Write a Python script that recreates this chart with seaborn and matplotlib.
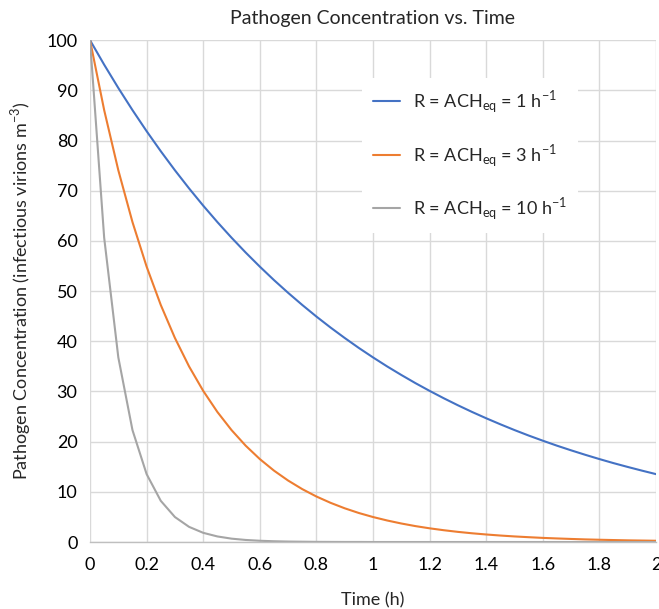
import matplotlib
matplotlib.use("Agg")
import matplotlib.pyplot as plt
import seaborn as sns
import pandas as pd
import numpy as np


time_h = [0.0, 0.05, 0.1, 0.15, 0.2, 0.25, 0.3, 0.35, 0.4, 0.45, 0.5,
          0.55, 0.6, 0.65, 0.7, 0.75, 0.8, 0.85, 0.9, 0.95, 1.0,
          1.05, 1.1, 1.15, 1.2, 1.25, 1.3, 1.35, 1.4, 1.45, 1.5,
          1.55, 1.6, 1.65, 1.7, 1.75, 1.8, 1.85, 1.9, 1.95, 2.0]

conc_r1 = [100, 95.12, 90.48, 86.07, 81.87, 77.88, 74.08, 70.47, 67.03, 63.76, 60.65,
           57.69, 54.88, 52.20, 49.66, 47.24, 44.93, 42.74, 40.66, 38.67, 36.79,
           34.99, 33.29, 31.66, 30.12, 28.65, 27.25, 25.92, 24.66, 23.46, 22.31,
           21.22, 20.19, 19.20, 18.27, 17.38, 16.53, 15.72, 14.96, 14.23, 13.53]

conc_r3 = [100, 86.07, 74.08, 63.76, 54.88, 47.24, 40.66, 34.99, 30.12, 25.92, 22.31,
           19.20, 16.53, 14.23, 12.25, 10.54, 9.07, 7.81, 6.72, 5.78, 4.98,
           4.29, 3.69, 3.17, 2.73, 2.35, 2.02, 1.74, 1.50, 1.29, 1.11,
           0.96, 0.82, 0.71, 0.61, 0.52, 0.45, 0.39, 0.33, 0.29, 0.25]

conc_r10 = [100, 60.65, 36.79, 22.31, 13.53, 8.21, 4.98, 3.02, 1.83, 1.11, 0.67,
            0.41, 0.25, 0.15, 0.09, 0.06, 0.03, 0.02, 0.01, 0.01, 0.0,
            0, 0, 0, 0, 0, 0, 0, 0, 0, 0,
            0, 0, 0, 0, 0, 0, 0, 0, 0, 0]

labels = [r"R = ACH$_\mathregular{eq}$ = 1 h$^\mathregular{-1}$",
          r"R = ACH$_\mathregular{eq}$ = 3 h$^\mathregular{-1}$",
          r"R = ACH$_\mathregular{eq}$ = 10 h$^\mathregular{-1}$"]
colors = ["#4472c4", "#ed7d31", "#a5a5a5"]


def main():

    sns.set_theme(style="white")
    plt.rcParams["font.family"] = ["Lato", "DejaVu Sans"]
    plt.rcParams["mathtext.fontset"] = "custom"
    plt.rcParams["mathtext.rm"] = "Lato"

    df = pd.DataFrame({"time": time_h * 3,
                       "conc": conc_r1 + conc_r3 + conc_r10,
                       "series": [labels[0]] * len(time_h) + [labels[1]] * len(time_h) + [labels[2]] * len(time_h)})

    fig = plt.figure(figsize=(6.59, 6.09), dpi=100)
    ax = fig.add_axes([0.1366, 0.110, 0.8588, 0.824])

    sns.lineplot(data=df, x="time", y="conc", hue="series", palette=colors,
                 hue_order=labels, linewidth=1.5, ax=ax)

    ax.set_xlim(0, 2)
    ax.set_ylim(0, 100)
    ax.set_xticks(np.arange(0, 2.01, 0.2))
    ax.set_xticklabels(["0", "0.2", "0.4", "0.6", "0.8", "1", "1.2", "1.4", "1.6", "1.8", "2"])
    ax.set_yticks(np.arange(0, 101, 10))
    ax.tick_params(axis="x", labelsize=13, length=0, pad=11, colors="black")
    ax.tick_params(axis="y", labelsize=13, length=0, pad=9, colors="black")

    ax.grid(True, color="#d9d9d9", linewidth=1)
    for side in ["top", "right", "left"]:
        ax.spines[side].set_visible(False)
    ax.spines["bottom"].set_color("#bfbfbf")
    ax.spines["bottom"].set_linewidth(1)

    ax.set_title("Pathogen Concentration vs. Time", fontsize=14, pad=12)
    ax.set_xlabel("Time (h)", fontsize=13, labelpad=14)
    ax.set_ylabel(r"Pathogen Concentration (infectious virions m$^\mathregular{-3}$)", fontsize=13, labelpad=10)

    leg = ax.legend(loc="upper left", bbox_to_anchor=(0.480, 0.925), fontsize=13,
                    frameon=True, facecolor="white", edgecolor="white", framealpha=1,
                    labelspacing=1.47, handlelength=1.5, handletextpad=0.75,
                    borderpad=0.6, borderaxespad=0, fancybox=False)
    leg.get_frame().set_linewidth(0)

    plt.savefig("out.png", dpi=100)


if __name__ == "__main__":
    main()
